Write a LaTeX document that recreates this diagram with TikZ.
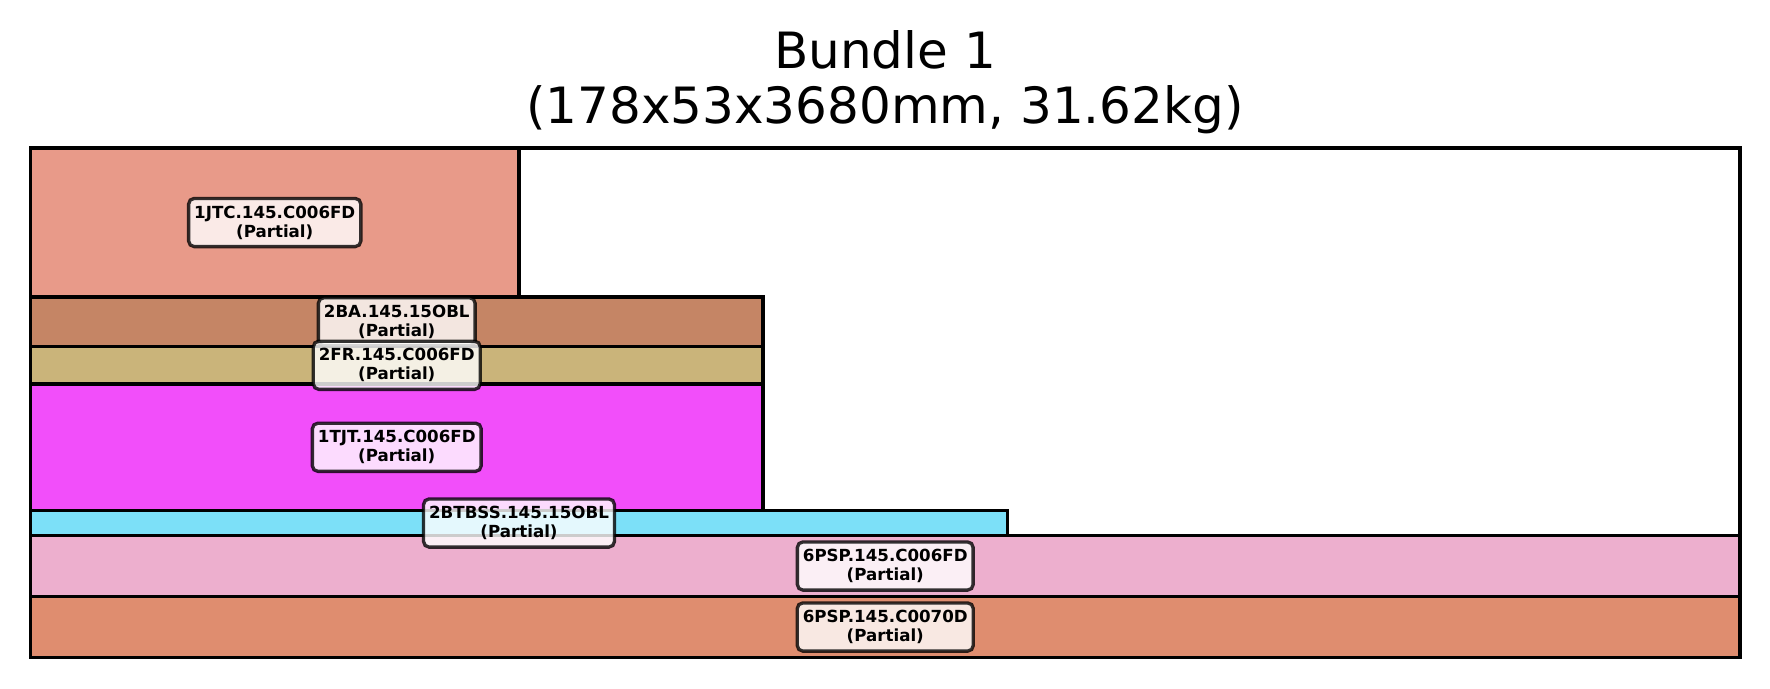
\documentclass[tikz,border=0pt]{standalone}
\usepackage{fontspec}
\setmainfont{DejaVu Sans}
\definecolor{cJTC}{HTML}{E89A89}
\definecolor{cBA}{HTML}{C58565}
\definecolor{cFR}{HTML}{CAB47A}
\definecolor{cTJT}{HTML}{F24EFA}
\definecolor{cBTB}{HTML}{7CE0F8}
\definecolor{cPSPa}{HTML}{EDAFCE}
\definecolor{cPSPb}{HTML}{DF8D6F}
\tikzset{
  layer/.style={draw=black, line width=1.4pt},
  frame/.style={draw=black, line width=1.3pt},
  lab/.style={draw=black, draw opacity=0.8, fill=white, fill opacity=0.8, text opacity=1,
    rounded corners=2pt, line width=1.2pt, inner xsep=2pt, inner ysep=2.65pt,
    align=center, font=\fontsize{6}{6.8}\selectfont\bfseries},
  ttl/.style={anchor=base, inner sep=0pt, font=\fontsize{18}{20}\selectfont}
}
\begin{document}
\begin{tikzpicture}[x=0.36pt, y=-0.36pt]
\useasboundingbox (0,0) rectangle (1770,688);
% title
\node[ttl] (t1) at (885,68.3) {Bundle 1};
\node[ttl] (t2) at (885,123.3) {(178x53x3680mm, 31.62kg)};
% layers
\path[layer, fill=cJTC] (30.5,148) rectangle (519,297);
\path[layer, fill=cBA] (30.5,297) rectangle (763,346.5);
\path[layer, fill=cFR] (30.5,346.5) rectangle (763,384);
\path[layer, fill=cTJT] (30.5,384) rectangle (763,510.5);
\path[layer, fill=cBTB] (30.5,510.5) rectangle (1007.5,535.5);
\path[layer, fill=cPSPa] (30.5,535.5) rectangle (1740,596.5);
\path[layer, fill=cPSPb] (30.5,596.5) rectangle (1740,657.5);
% frame
\path[frame] (30.5,148) rectangle (1740,657.5);
% labels
\node[lab] (l1) at (274.75,222.5) {1JTC.145.C006FD\\(Partial)};
\node[lab] (l2) at (396.75,321.75) {2BA.145.15OBL\\(Partial)};
\node[lab] (l3) at (396.75,365.25) {2FR.145.C006FD\\(Partial)};
\node[lab] (l4) at (396.75,447.25) {1TJT.145.C006FD\\(Partial)};
\node[lab] (l5) at (519,523) {2BTBSS.145.15OBL\\(Partial)};
\node[lab] (l6) at (885.25,566) {6PSP.145.C006FD\\(Partial)};
\node[lab] (l7) at (885.25,627) {6PSP.145.C0070D\\(Partial)};
\end{tikzpicture}
\end{document}
